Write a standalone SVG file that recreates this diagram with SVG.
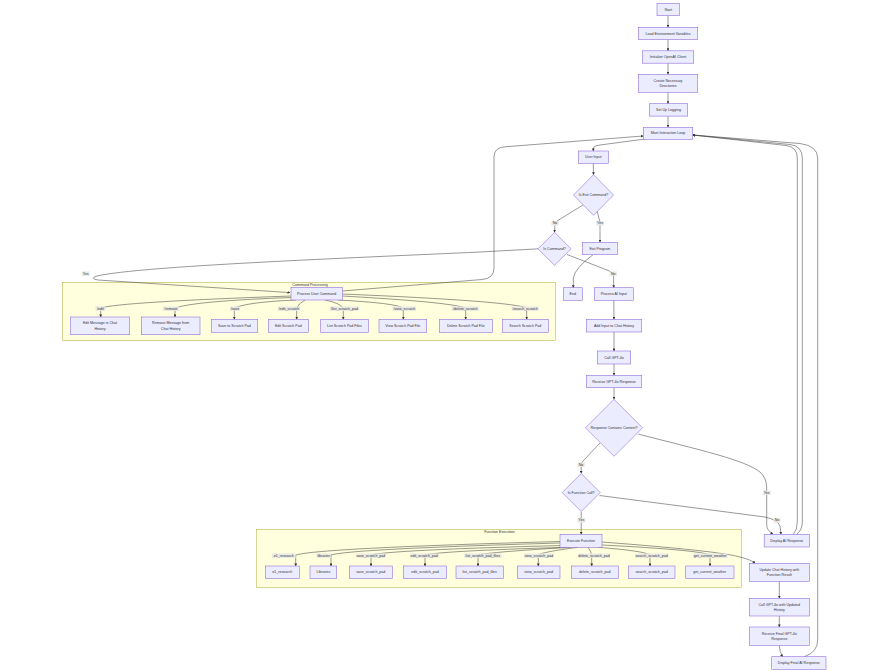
<svg xmlns="http://www.w3.org/2000/svg" width="887" height="671" viewBox="0 0 887 671">
<style>
.n rect,.n polygon{fill:#ECECFF;stroke:#9370DB;stroke-width:.6}
text{font-family:"Liberation Sans",Arial,sans-serif;font-size:3.6px;fill:#333;text-anchor:middle;dominant-baseline:central}
.e path{fill:none;stroke:#333;stroke-width:.5;marker-end:url(#ah)}
.e path.nm{marker-end:none}
.lb rect{fill:#e8e8e8;opacity:.85}
.cl{fill:#ffffde;stroke:#aaaa33;stroke-width:.5}
</style>
<defs>
<marker id="ah" viewBox="0 0 10 10" markerUnits="userSpaceOnUse" markerWidth="2.8" markerHeight="2.8" refX="9" refY="5" orient="auto"><path d="M0,0 L10,5 L0,10 z" fill="#333"/></marker>
</defs>
<rect width="887" height="671" fill="#fff"/>
<g id="cluster-command">
<rect class="cl" x="62.3" y="282.3" width="493" height="58.4"/>
<text x="310" y="284.6">Command Processing</text>
</g>
<g id="cluster-function">
<rect class="cl" x="256.7" y="529.3" width="485" height="58"/>
<text x="499.5" y="531.6">Function Execution</text>
</g>
<g id="connectors" class="e">
<path d="M668,15.7 L668,27.3"/>
<path d="M668,39.7 L668,50.8"/>
<path d="M668,63.2 L668,74.3"/>
<path d="M668,92.3 L668,103.7"/>
<path d="M668,116.1 L668,127.3"/>
<path d="M645,139 L600,145 Q593.3,146 593.3,148.5 L593.3,151"/>
<path d="M593.3,163.3 L593.5,174.7"/>
<path d="M583,205 L557,221 Q555,222.5 555,225 L554.5,232.3"/>
<path d="M597,211 L600,222 L600,242.3"/>
<path d="M593,254.7 Q575,268 573.3,278 L573.3,287.7"/>
<path d="M567,254.5 L607,270 Q613.5,272.5 613.6,276 L613.7,287.7"/>
<path d="M538.7,248.8 L480,252 C350,258 140,266 97,276 Q89,278.5 98,280 L290,292.6"/>
<path d="M342.3,291 L482,279.5 Q494,278.5 494,268 L494,157 Q494,147.5 505,146.8 L643.3,136"/>
<path d="M613.8,300.3 L614,319.3"/>
<path d="M614,332 L614,351"/>
<path d="M614,364 L614,375.3"/>
<path d="M614,387.7 L614,399.3"/>
<path d="M600,443 L583,461 Q581.2,463 581.2,466 L581.2,473.3"/>
<path d="M638,434 C700,450 745,460 760,472 Q766.7,478 766.7,488 L766.7,525 Q766.7,530 773,534.3"/>
<path d="M599.5,495.5 L765,517 Q778,520 780,526 L781,534.3"/>
<path d="M581.2,511.7 L581.2,534.3"/>
<path d="M779.3,581.3 L779.3,598.3"/>
<path d="M779.3,616 L779.3,627"/>
<path d="M779.3,645.3 Q779.3,652 782.7,656.7"/>
<path d="M793.3,534.3 Q797.3,530 797.3,522 L797.3,158 Q797.3,147 786,145.5 L692.7,135"/>
<path d="M796.7,534.3 Q802.3,530 802.3,522 L802.3,158 Q802.3,146 790,144.5 L692.7,135"/>
<path d="M804.3,656.7 Q817.7,652 817.7,640 L817.7,158 Q817.7,146 800,143.5 L692.7,135"/>
<path d="M291,296 Q120,302 100.7,308 L100.7,317"/>
<path d="M291,297.5 Q195,301 175,308 L175,317"/>
<path d="M296,300 Q248,302 234.3,308 L234.3,319.3"/>
<path d="M305,300 Q298,304 296.7,308 L296.7,319.3"/>
<path d="M325,300 Q340,303 343.3,308 L343.3,319.3"/>
<path d="M338,300 Q395,303 403.3,308 L403.3,319.3"/>
<path d="M342.3,296 Q450,302 465.7,308 L465.7,319.3"/>
<path d="M342.3,294 Q510,301 526.7,308 L526.7,319.3"/>
<path d="M560,541.5 Q320,548 295.7,555 L295.7,566"/>
<path d="M560,543 Q350,549 331,555 L331,566"/>
<path d="M562,545.5 Q390,550 371,555 L371,566"/>
<path d="M566,547.3 Q440,551 425,555 L425,566"/>
<path d="M571,547.3 Q490,552 478,555 L478,566"/>
<path d="M578,547.3 Q542,552 538.3,555 L538.3,566"/>
<path d="M588,547.3 Q591,551 591.7,555 L591.7,566"/>
<path d="M598,547.3 Q645,551 650,555 L650,566"/>
<path d="M602,545 Q700,550 710,555 L710,566"/>
<path d="M602,542 Q720,551 740,557 Q752,560 755,563.3"/>
<g class="lb">
<rect x="551.3" y="221" width="7.4" height="4.6"/><text x="555" y="223.3">No</text>
<rect x="596" y="221" width="8" height="4.6"/><text x="600" y="223.3">Yes</text>
<rect x="81.7" y="271.4" width="8" height="4.6"/><text x="85.7" y="273.7">Yes</text>
<rect x="609.6" y="271.4" width="7.4" height="4.6"/><text x="613.3" y="273.7">No</text>
<rect x="577.3" y="462.4" width="7.4" height="4.6"/><text x="581" y="464.7">No</text>
<rect x="762.7" y="490.4" width="8" height="4.6"/><text x="766.7" y="492.7">Yes</text>
<rect x="773.3" y="518" width="7.4" height="4.6"/><text x="777" y="520.3">No</text>
<rect x="577.3" y="518" width="8" height="4.6"/><text x="581.3" y="520.3">Yes</text>
<rect x="95.5" y="306.4" width="10" height="4.6"/><text x="100.5" y="308.7">/edit</text>
<rect x="162.8" y="306.4" width="16.4" height="4.6"/><text x="171" y="308.7">/remove</text>
<rect x="229.8" y="306.4" width="10.4" height="4.6"/><text x="235" y="308.7">/save</text>
<rect x="277.8" y="306.4" width="22.4" height="4.6"/><text x="289" y="308.7">/edit_scratch</text>
<rect x="329.8" y="306.4" width="29.4" height="4.6"/><text x="344.5" y="308.7">/list_scratch_pad</text>
<rect x="392.6" y="306.4" width="23.4" height="4.6"/><text x="404.3" y="308.7">/view_scratch</text>
<rect x="451.5" y="306.4" width="27.6" height="4.6"/><text x="465.3" y="308.7">/delete_scratch</text>
<rect x="511.5" y="306.4" width="27.4" height="4.6"/><text x="525.2" y="308.7">/search_scratch</text>
<rect x="271.8" y="553.4" width="24" height="4.6"/><text x="283.8" y="555.7">o1_research</text>
<rect x="316.5" y="553.4" width="14.6" height="4.6"/><text x="323.8" y="555.7">libraries</text>
<rect x="356.5" y="553.4" width="28.6" height="4.6"/><text x="370.8" y="555.7">save_scratch_pad</text>
<rect x="409.9" y="553.4" width="28.6" height="4.6"/><text x="424.2" y="555.7">edit_scratch_pad</text>
<rect x="463.9" y="553.4" width="37.8" height="4.6"/><text x="482.8" y="555.7">list_scratch_pad_files</text>
<rect x="524.2" y="553.4" width="29.2" height="4.6"/><text x="538.8" y="555.7">view_scratch_pad</text>
<rect x="577.9" y="553.4" width="32.2" height="4.6"/><text x="594" y="555.7">delete_scratch_pad</text>
<rect x="635" y="553.4" width="33.4" height="4.6"/><text x="651.7" y="555.7">search_scratch_pad</text>
<rect x="693.2" y="553.4" width="34.2" height="4.6"/><text x="710.3" y="555.7">get_current_weather</text>
</g>
</g>
<g id="start" class="n"><rect x="657" y="3.3" width="22.3" height="12.4"/><text x="668.2" y="9.5">Start</text></g>
<g id="load-env" class="n"><rect x="638.3" y="27.3" width="59.4" height="12.4"/><text x="668" y="33.5">Load Environment Variables</text></g>
<g id="init-openai" class="n"><rect x="642.3" y="50.8" width="51.4" height="12.4"/><text x="668" y="57">Initialize OpenAI Client</text></g>
<g id="create-dirs" class="n"><rect x="638.3" y="74.3" width="59.4" height="18"/><text x="668" y="80.7">Create Necessary</text><text x="668" y="86">Directories</text></g>
<g id="setup-logging" class="n"><rect x="649.3" y="103.7" width="38.4" height="12.4"/><text x="668.5" y="110">Set Up Logging</text></g>
<g id="main-loop" class="n"><rect x="643.3" y="127.3" width="49.4" height="12"/><text x="668" y="133.3">Main Interaction Loop</text></g>
<g id="user-input" class="n"><rect x="578.3" y="151" width="30" height="12.4"/><text x="593.3" y="157.2">User Input</text></g>
<g id="is-exit" class="n"><polygon points="593.5,174.7 613.5,195 593.5,215.3 573.5,195"/><text x="593.5" y="195">Is Exit Command?</text></g>
<g id="exit-program" class="n"><rect x="582.3" y="242.3" width="35" height="12.4"/><text x="599.8" y="248.5">Exit Program</text></g>
<g id="is-command" class="n"><polygon points="554.5,232.3 571,248.8 554.5,265.3 538,248.8"/><text x="554.5" y="248.8">Is Command?</text></g>
<g id="end" class="n"><rect x="563.3" y="287.7" width="19" height="12.6"/><text x="572.8" y="294">End</text></g>
<g id="process-ai" class="n"><rect x="594.3" y="287.7" width="39" height="12.6"/><text x="613.8" y="294">Process AI Input</text></g>
<g id="process-user-command" class="n"><rect x="291" y="287.3" width="51.3" height="12.7"/><text x="316.7" y="293.7">Process User Command</text></g>
<g id="edit-message" class="n"><rect x="70.3" y="317" width="59.4" height="17.7"/><text x="100" y="323.2">Edit Message in Chat</text><text x="100" y="328.5">History</text></g>
<g id="remove-message" class="n"><rect x="141.3" y="317" width="58.7" height="17.7"/><text x="170.7" y="323.2">Remove Message from</text><text x="170.7" y="328.5">Chat History</text></g>
<g id="save-scratch" class="n"><rect x="211.3" y="319.3" width="46.4" height="13"/><text x="234.5" y="325.8">Save to Scratch Pad</text></g>
<g id="edit-scratch" class="n"><rect x="268.3" y="319.3" width="40" height="13"/><text x="288.3" y="325.8">Edit Scratch Pad</text></g>
<g id="list-scratch" class="n"><rect x="320.7" y="319.3" width="47.6" height="13"/><text x="344.5" y="325.8">List Scratch Pad Files</text></g>
<g id="view-scratch" class="n"><rect x="379" y="319.3" width="47.7" height="13"/><text x="402.8" y="325.8">View Scratch Pad File</text></g>
<g id="delete-scratch" class="n"><rect x="439.3" y="319.3" width="53" height="13"/><text x="465.8" y="325.8">Delete Scratch Pad File</text></g>
<g id="search-scratch" class="n"><rect x="502.3" y="319.3" width="46" height="13"/><text x="525.3" y="325.8">Search Scratch Pad</text></g>
<g id="add-input" class="n"><rect x="586.3" y="319.3" width="55.4" height="12.7"/><text x="614" y="325.6">Add Input to Chat History</text></g>
<g id="call-gpt" class="n"><rect x="597.3" y="351" width="33.4" height="13"/><text x="614" y="357.5">Call GPT-4o</text></g>
<g id="receive-gpt" class="n"><rect x="586.3" y="375.3" width="55.4" height="12.4"/><text x="614" y="381.5">Receive GPT-4o Response</text></g>
<g id="response-content" class="n"><polygon points="614,399.3 642.5,427.8 614,456.3 585.5,427.8"/><text x="614" y="427.8">Response Contains Content?</text></g>
<g id="is-function" class="n"><polygon points="581.2,473.5 600.2,492.5 581.2,511.5 562.2,492.5"/><text x="581.2" y="492.5">Is Function Call?</text></g>
<g id="display-ai" class="n"><rect x="764.2" y="534.3" width="45.3" height="12.7"/><text x="786.8" y="540.7">Display AI Response</text></g>
<g id="execute-function" class="n"><rect x="560" y="534.3" width="42" height="13"/><text x="581" y="540.8">Execute Function</text></g>
<g id="fn-o1" class="n"><rect x="265.3" y="566" width="34" height="12.4"/><text x="282.3" y="572.2">o1_research</text></g>
<g id="fn-libraries" class="n"><rect x="310" y="566" width="26.7" height="12.4"/><text x="323.3" y="572.2">Libraries</text></g>
<g id="fn-save" class="n"><rect x="349.3" y="566" width="43" height="12.4"/><text x="370.8" y="572.2">save_scratch_pad</text></g>
<g id="fn-edit" class="n"><rect x="403.3" y="566" width="43.4" height="12.4"/><text x="425" y="572.2">edit_scratch_pad</text></g>
<g id="fn-list" class="n"><rect x="456" y="566" width="47.3" height="12.4"/><text x="479.7" y="572.2">list_scratch_pad_files</text></g>
<g id="fn-view" class="n"><rect x="517.3" y="566" width="42.7" height="12.4"/><text x="538.7" y="572.2">view_scratch_pad</text></g>
<g id="fn-delete" class="n"><rect x="571.3" y="566" width="47" height="12.4"/><text x="594.8" y="572.2">delete_scratch_pad</text></g>
<g id="fn-search" class="n"><rect x="628.3" y="566" width="46.7" height="12.4"/><text x="651.7" y="572.2">search_scratch_pad</text></g>
<g id="fn-weather" class="n"><rect x="685.7" y="566" width="48.3" height="12.4"/><text x="709.8" y="572.2">get_current_weather</text></g>
<g id="update-history" class="n"><rect x="749.3" y="563.3" width="60" height="18"/><text x="779.3" y="569.7">Update Chat History with</text><text x="779.3" y="575">Function Result</text></g>
<g id="call-gpt-updated" class="n"><rect x="749.3" y="598.3" width="60" height="17.7"/><text x="779.3" y="604.5">Call GPT-4o with Updated</text><text x="779.3" y="609.8">History</text></g>
<g id="receive-final" class="n"><rect x="749.3" y="627" width="60" height="18.3"/><text x="779.3" y="633.5">Receive Final GPT-4o</text><text x="779.3" y="638.8">Response</text></g>
<g id="display-final" class="n"><rect x="771.7" y="656.7" width="54.3" height="12.6"/><text x="798.8" y="663">Display Final AI Response</text></g>
</svg>
